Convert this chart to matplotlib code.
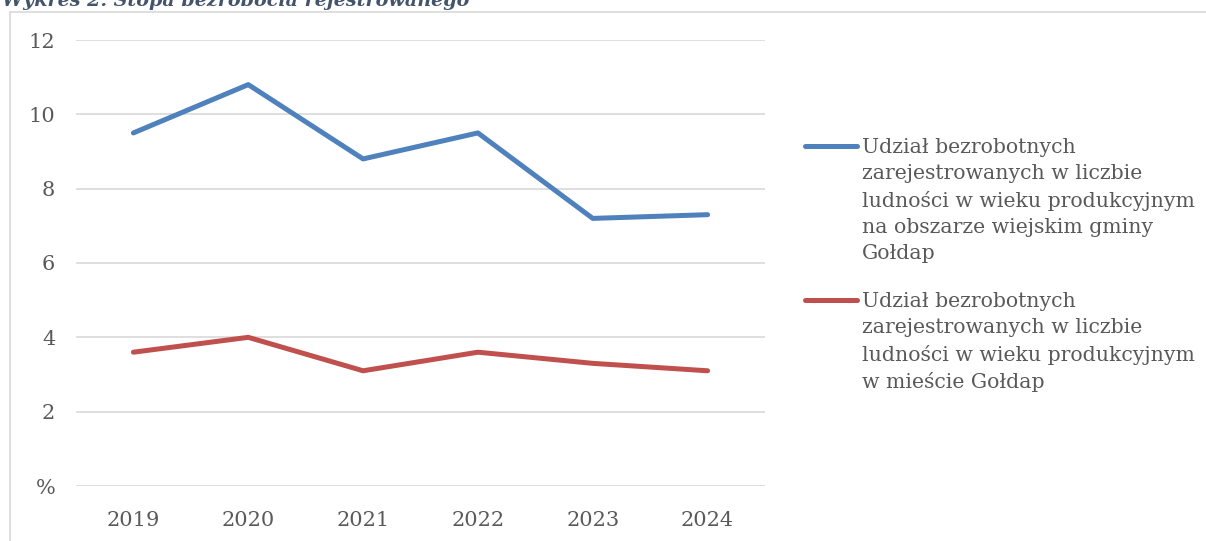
import matplotlib
matplotlib.use("Agg")
import matplotlib.pyplot as plt
from matplotlib.lines import Line2D
from matplotlib.patches import Rectangle

years = ["2019", "2020", "2021", "2022", "2023", "2024"]
rural = [9.5, 10.8, 8.8, 9.5, 7.2, 7.3]
town = [3.6, 4.0, 3.1, 3.6, 3.3, 3.1]
series_labels = [
    "Udział bezrobotnych\nzarejestrowanych w liczbie\nludności w wieku produkcyjnym\nna obszarze wiejskim gminy\nGołdap",
    "Udział bezrobotnych\nzarejestrowanych w liczbie\nludności w wieku produkcyjnym\nw mieście Gołdap",
]
yticks = [0, 2, 4, 6, 8, 10, 12]
ytick_labels = ["%", "2", "4", "6", "8", "10", "12"]
title = "Wykres 2. Stopa bezrobocia rejestrowanego"

colors = ["#4F81BD", "#C0504D"]
text_color = "#595959"
FONT = "DejaVu Serif"
plt.rcParams["font.family"] = [FONT, "DejaVu Sans"]

W, H = 1206, 541
fig = plt.figure(figsize=(W / 100, H / 100), dpi=100)

# chart border
fig.add_artist(Rectangle((10 / W, -0.1), 1.2, (H - 12) / H + 0.1,
                         transform=fig.transFigure, fill=False,
                         edgecolor="#D9D9D9", linewidth=1.2))
# title (partially clipped at top, as in the source)
fig.text(2 / W, 1 - 6 / H, title, fontsize=13.8, fontweight="bold", fontstyle="italic",
         color="#44546A", va="baseline", ha="left", family=[FONT])

ax = fig.add_axes([76 / W, 55 / H, (765 - 76) / W, (486 - 40) / H])
x = list(range(len(years)))
for vals, c in zip([rural, town], colors):
    ax.plot(x, vals, color=c, linewidth=3.6, solid_capstyle="round")
ax.set_xlim(-0.5, len(years) - 0.5)
ax.set_ylim(0, 12)
ax.set_yticks(yticks)
ax.set_yticklabels(ytick_labels)
ax.set_xticks(x)
ax.set_xticklabels(years)
ax.grid(axis="y", color="#D9D9D9", linewidth=1.2)
ax.set_axisbelow(True)
for s in ax.spines.values():
    s.set_visible(False)
ax.tick_params(axis="both", length=0, labelsize=15, colors=text_color)
ax.tick_params(axis="y", pad=15)
ax.tick_params(axis="x", pad=18)

# legend
legend_tops = [146, 300]
for lab, c, yp in zip(series_labels, colors, legend_tops):
    fig.add_artist(Line2D([805 / W, 857 / W], [1 - yp / H, 1 - yp / H],
                          transform=fig.transFigure, color=c, linewidth=3.6,
                          solid_capstyle="round"))
    fig.text(862 / W, 1 - (yp - 8) / H, lab, fontsize=14.7, color=text_color,
             va="top", ha="left", linespacing=1.47)

fig.savefig("out.png", dpi=100)
